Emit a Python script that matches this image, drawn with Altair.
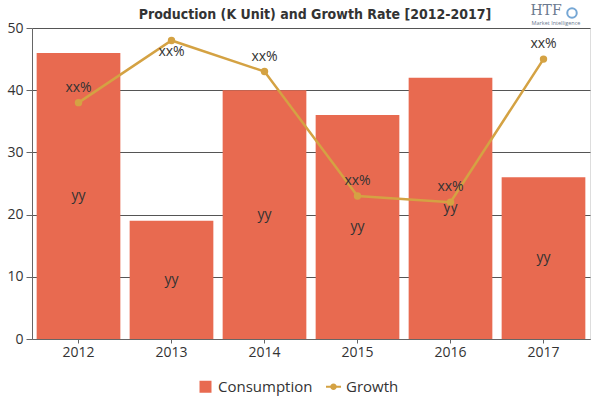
import altair as alt
import pandas as pd

# Yearly values
years = ["2012", "2013", "2014", "2015", "2016", "2017"]
consumption = [46, 19, 40, 36, 42, 26]
growth = [38, 48, 43, 23, 22, 45]
bar_labels = ["yy", "yy", "yy", "yy", "yy", "yy"]
growth_labels = ["xx%", "xx%", "xx%", "xx%", "xx%", "xx%"]
series_names = ["Consumption", "Growth"]

BAR_COLOR = "#E86A50"
LINE_COLOR = "#D4A243"
TEXT_COLOR = "#333333"
FONT = "Open Sans"

df = pd.DataFrame({
    "year": years,
    "consumption": consumption,
    "growth": growth,
    "bar_label": bar_labels,
    "growth_label": growth_labels,
    "series": series_names[0],
})

x_enc = alt.X(
    "year:N",
    sort=years,
    scale=alt.Scale(paddingInner=0.1, paddingOuter=0.05),
    axis=alt.Axis(
        title=None, labelAngle=0, labelFontSize=14, labelFont=FONT,
        labelColor=TEXT_COLOR, tickSize=4, tickColor="#666666",
        domainColor="#666666", labelPadding=2, grid=False,
    ),
)
y_scale = alt.Scale(domain=[0, 50], nice=False)

# Legend entry shapes: square for the bars, line-with-dot for the growth line
growth_symbol = (
    "M-1.25,-0.17H1.25V0.17H-1.25Z "
    "M-0.55,0A0.55,0.55 0 1,1 0.55,0A0.55,0.55 0 1,1 -0.55,0Z"
)
legend = alt.Legend(
    title=None, orient="none", direction="horizontal",
    legendX=166, legendY=351,
    symbolSize=144, symbolStrokeWidth=0,
    symbolType=alt.ExprRef(expr=f"datum.value === 'Growth' ? '{growth_symbol}' : 'square'"),
    labelFontSize=15, labelFont=FONT, labelColor=TEXT_COLOR,
    labelOffset=5, columnPadding=13,
)

base = alt.Chart(df)

bars = base.mark_bar().encode(
    x=x_enc,
    y=alt.Y(
        "consumption:Q", scale=y_scale,
        axis=alt.Axis(
            title=None, values=[0, 10, 20, 30, 40, 50], labelFontSize=14,
            labelFont=FONT, labelColor=TEXT_COLOR, tickSize=6,
            tickColor="#666666", domainColor="#666666", labelPadding=3,
            gridColor="#555555", gridWidth=1,
        ),
    ),
    color=alt.Color(
        "series:N",
        scale=alt.Scale(domain=series_names, range=[BAR_COLOR, LINE_COLOR]),
        legend=legend,
    ),
)

bar_text = base.transform_calculate(mid="datum.consumption / 2").mark_text(
    fontSize=14, font=FONT, color=TEXT_COLOR, baseline="middle"
).encode(x=alt.X("year:N", sort=years), y=alt.Y("mid:Q", scale=y_scale), text="bar_label:N")

line = base.mark_line(color=LINE_COLOR, strokeWidth=2.5).encode(
    x=alt.X("year:N", sort=years), y=alt.Y("growth:Q", scale=y_scale)
)
points = base.mark_circle(color=LINE_COLOR, size=55, opacity=1).encode(
    x=alt.X("year:N", sort=years), y=alt.Y("growth:Q", scale=y_scale)
)

growth_text_above = base.transform_filter("datum.growth < 47").mark_text(
    fontSize=14, font=FONT, color=TEXT_COLOR, baseline="middle", dy=-15
).encode(x=alt.X("year:N", sort=years), y=alt.Y("growth:Q", scale=y_scale), text="growth_label:N")

growth_text_below = base.transform_filter("datum.growth >= 47").mark_text(
    fontSize=14, font=FONT, color=TEXT_COLOR, baseline="middle", dy=12
).encode(x=alt.X("year:N", sort=years), y=alt.Y("growth:Q", scale=y_scale), text="growth_label:N")

# Publisher mark in the top-right corner
logo_main = alt.Chart(pd.DataFrame({"t": ["HTF"]})).mark_text(
    font="DejaVu Serif", fontSize=14, color="#6B7A8F", align="center", baseline="middle"
).encode(x=alt.value(514), y=alt.value(-17), text="t:N")
logo_sub = alt.Chart(pd.DataFrame({"t": ["Market Intelligence"]})).mark_text(
    font=FONT, fontSize=5.5, color="#6B7A8F", align="center", baseline="middle"
).encode(x=alt.value(524), y=alt.value(-5), text="t:N")
logo_icon = alt.Chart(pd.DataFrame({"t": ["HTF"]})).mark_point(
    shape="circle", filled=False, color="#3C82C4", size=90, strokeWidth=2
).encode(x=alt.value(540), y=alt.value(-15))

chart = alt.layer(
    bars, bar_text, line, points, growth_text_above, growth_text_below,
    logo_main, logo_sub, logo_icon
).properties(
    width=558, height=311,
    title=alt.Title(
        "Production (K Unit) and Growth Rate [2012-2017]",
        font="Liberation Sans Narrow, DejaVu Sans Condensed, sans-serif",
        fontSize=14, fontWeight="bold", color="#333333",
        anchor="middle", dx=4, offset=9, dy=27,
    ),
    autosize=alt.AutoSizeParams(type="none"),
    padding={"left": 32, "top": 28, "right": 10, "bottom": 61},
).configure_view(stroke=None).configure(background="white")

chart.save("out.html", embed_options={"renderer": "svg", "actions": False})
